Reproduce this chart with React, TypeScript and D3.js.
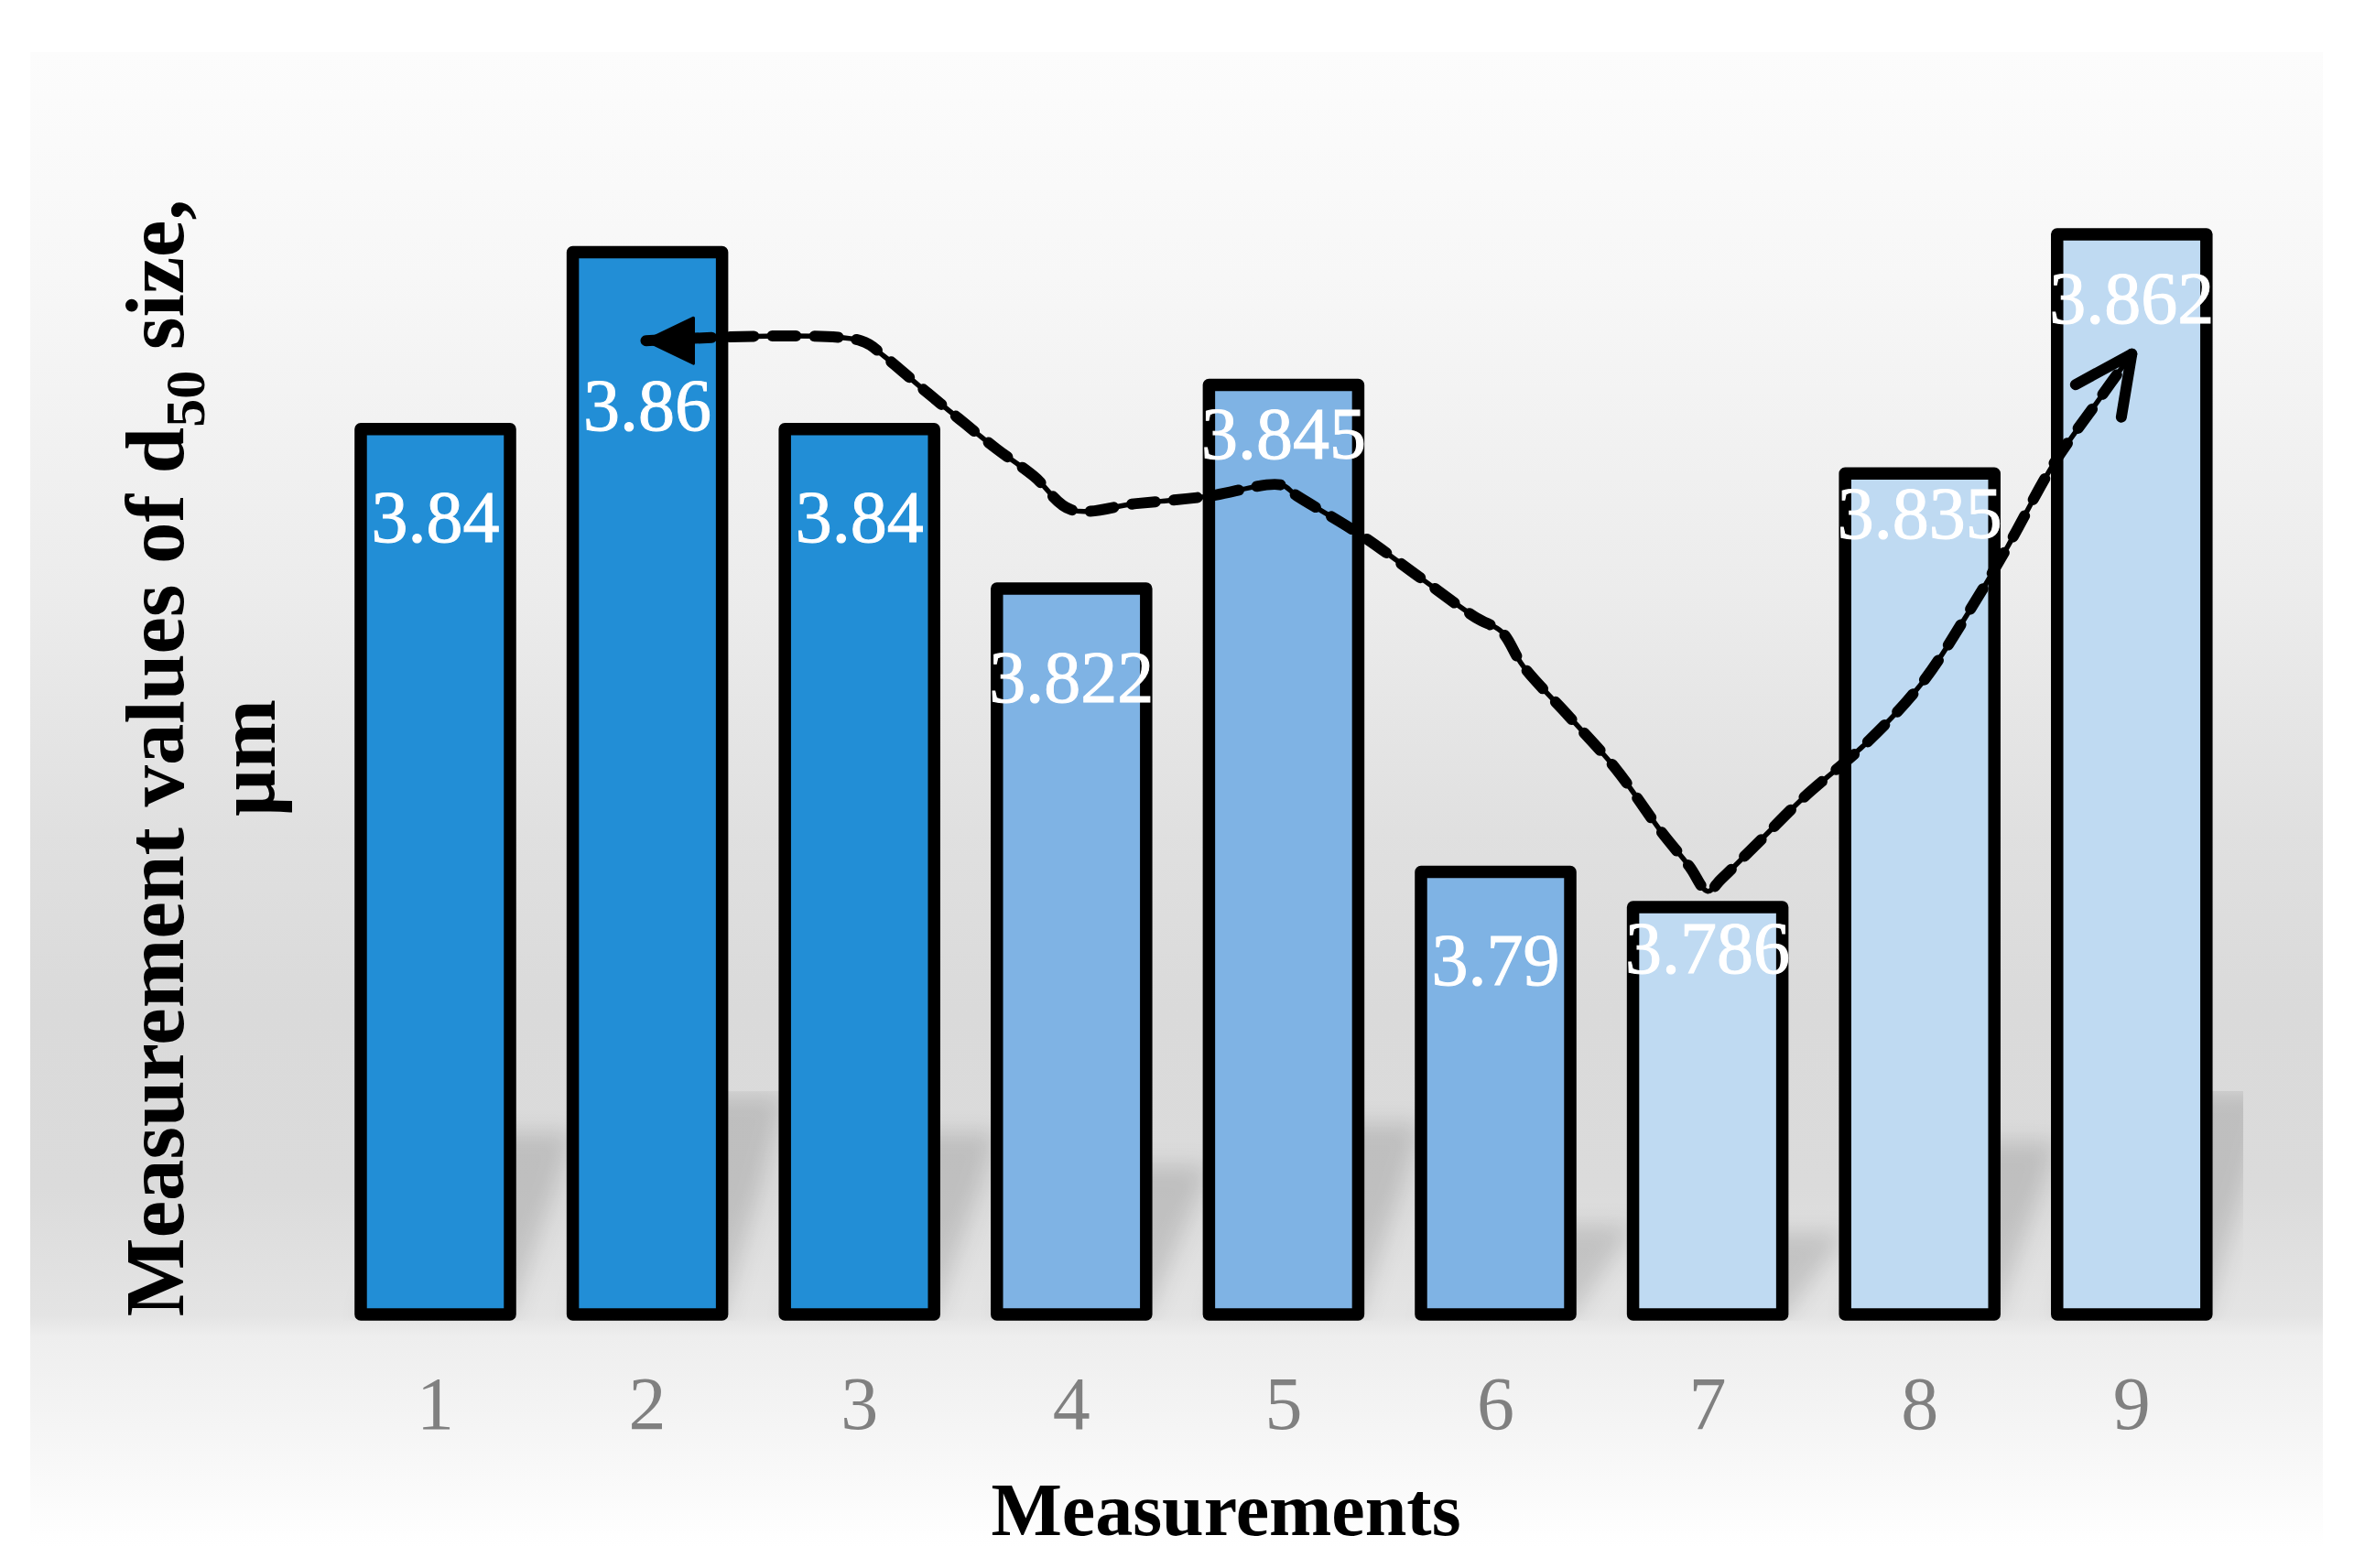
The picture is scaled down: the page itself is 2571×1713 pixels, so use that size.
import React, { useEffect } from 'react';
import * as d3 from 'd3';

// ---------- data ----------
const categories = ['1', '2', '3', '4', '5', '6', '7', '8', '9'];
const values = [3.84, 3.86, 3.84, 3.822, 3.845, 3.79, 3.786, 3.835, 3.862];
const barColors = ['#228ED6', '#228ED6', '#228ED6', '#7FB3E4', '#7FB3E4', '#7FB3E4', '#BFDAF2', '#BFDAF2', '#BFDAF2'];
// label baseline offsets below bar top (px)
const labelDy = [130, 201, 130, 131, 87, 130, 79, 78, 104];
// hand-drawn trend annotation (measurement position, µm)
const trendPos = [1.993, 3.006, 3.118, 3.291, 3.468, 3.645, 3.822, 3.999, 4.306, 4.638, 4.988, 5.061, 5.368, 5.64, 5.908, 6.029, 6.128, 6.348, 6.568, 6.776, 6.914, 7.0, 7.065, 7.259, 7.453, 7.755, 8.01, 8.222, 8.416, 8.632, 8.835, 9.0];
const trendVal = [3.85, 3.85, 3.8482, 3.8447, 3.8412, 3.8378, 3.8347, 3.8309, 3.8316, 3.8324, 3.8337, 3.8325, 3.828, 3.8233, 3.8187, 3.8171, 3.8133, 3.8075, 3.8016, 3.7947, 3.7906, 3.7878, 3.7892, 3.7938, 3.7984, 3.8047, 3.8113, 3.819, 3.8268, 3.8361, 3.843, 3.8485];
const yDomain = [3.74, 3.88];
const xTitle = 'Measurements';

// ---------- layout ----------
const W = 2571;
const H = 1713;
const chart = { x: 33, y: 57, w: 2504, h: 1632 };
const plot = { left: 359.7, right: 2444.1, top: 82, bottom: 1436 };
const stroke = 13.5;
const serif = '"Liberation Serif", "Times New Roman", Times, serif';

export default function App() {
  useEffect(() => {
    document.body.style.margin = '0';
  }, []);

  const x = d3.scaleBand<string>().domain(categories).range([plot.left, plot.right]).paddingInner(0.296).paddingOuter(0.148);
  const y = d3.scaleLinear().domain(yDomain).range([plot.bottom, plot.top]);
  const bw = x.bandwidth();
  const cx = (c: string) => (x(c) as number) + bw / 2;
  const xLin = d3.scaleLinear().domain([1, 9]).range([cx('1'), cx('9')]);

  const pts: [number, number][] = trendPos.map((p, i) => [xLin(p), y(trendVal[i])]);
  const line = d3.line<[number, number]>().x(d => d[0]).y(d => d[1]).curve(d3.curveCatmullRom.alpha(0.5));
  const pathD = line(pts) || '';

  // start arrow (filled triangle)
  const p0 = pts[0], p1 = pts[1];
  const a0 = Math.atan2(p1[1] - p0[1], p1[0] - p0[0]);
  const tL = 52, tW = 25;
  const bx = p0[0] + tL * Math.cos(a0), by = p0[1] + tL * Math.sin(a0);
  const tri = [
    [p0[0], p0[1]],
    [bx - tW * Math.sin(a0), by + tW * Math.cos(a0)],
    [bx + tW * Math.sin(a0), by - tW * Math.cos(a0)],
  ].map(p => p.join(',')).join(' ');

  // end arrow (open)
  const pn = pts[pts.length - 1], pm = pts[pts.length - 3];
  const aBack = Math.atan2(pm[1] - pn[1], pm[0] - pn[0]);
  const armL = 70, armA = (26 * Math.PI) / 180;
  const arm1 = [pn[0] + armL * Math.cos(aBack - armA), pn[1] + armL * Math.sin(aBack - armA)];
  const arm2 = [pn[0] + armL * Math.cos(aBack + armA), pn[1] + armL * Math.sin(aBack + armA)];

  const baseY = y(yDomain[0]);
  const shadowRatio = 0.21;
  const shadowShift = 70;

  return (
    <svg width={W} height={H} style={{ position: 'absolute', left: 0, top: 0, display: 'block' }} xmlns="http://www.w3.org/2000/svg">
      <defs>
        <linearGradient id="bg" x1="0" y1="0" x2="0" y2="1">
          <stop offset="0" stopColor="#FCFCFC" />
          <stop offset="0.15" stopColor="#F7F7F7" />
          <stop offset="0.36" stopColor="#ECECEC" />
          <stop offset="0.52" stopColor="#E0E0E0" />
          <stop offset="0.64" stopColor="#DADADA" />
          <stop offset="0.76" stopColor="#DBDBDB" />
          <stop offset="0.846" stopColor="#E4E4E4" />
          <stop offset="0.86" stopColor="#EEEEEE" />
          <stop offset="0.93" stopColor="#F6F6F6" />
          <stop offset="1" stopColor="#FFFFFF" />
        </linearGradient>
        <filter id="blur" x="-50%" y="-50%" width="200%" height="200%">
          <feGaussianBlur stdDeviation="12" />
        </filter>
        <clipPath id="shadowClip">
          <rect x={plot.left} y={1192} width={2450 - plot.left} height={baseY + stroke / 2 - 1192} />
        </clipPath>
      </defs>

      <rect x={0} y={0} width={W} height={H} fill="#FFFFFF" />
      <rect x={chart.x} y={chart.y} width={chart.w} height={chart.h} fill="url(#bg)" />

      {/* perspective shadows */}
      <g clipPath="url(#shadowClip)">
        <g filter="url(#blur)">
          {categories.map((c, i) => {
            const x0 = x(c) as number;
            const x1 = x0 + bw;
            const yb = baseY + stroke / 2;
            const hs = shadowRatio * (yb - (y(values[i]) - stroke / 2));
            const d = `M${x0},${yb} L${x1},${yb} L${x1 + shadowShift},${yb - hs} L${x0 + shadowShift},${yb - hs} Z`;
            return <path key={c} d={d} fill="#000" fillOpacity={0.13} />;
          })}
        </g>
      </g>

      {/* bars */}
      {categories.map((c, i) => (
        <rect
          key={c}
          x={x(c)}
          y={y(values[i])}
          width={bw}
          height={baseY - y(values[i])}
          fill={barColors[i]}
          stroke="#000"
          strokeWidth={stroke}
          strokeLinejoin="round"
        />
      ))}

      {/* value labels */}
      {categories.map((c, i) => (
        <text
          key={c}
          x={cx(c)}
          y={y(values[i]) - stroke / 2 + labelDy[i]}
          textAnchor="middle"
          fontFamily={serif}
          fontSize={80}
          fill="#FFFFFF"
          stroke="#FFFFFF"
          strokeWidth={1}
        >
          {String(values[i])}
        </text>
      ))}

      {/* trend annotation */}
      <path d={pathD} fill="none" stroke="#000" strokeWidth={5.5} strokeLinejoin="round" strokeLinecap="round" />
      <path d={pathD} fill="none" stroke="#000" strokeWidth={12} strokeDasharray="26 20" strokeLinecap="round" strokeLinejoin="round" />
      <polygon points={tri} fill="#000" stroke="#000" strokeWidth={3} strokeLinejoin="round" />
      <path
        d={`M${arm1[0]},${arm1[1]} L${pn[0]},${pn[1]} L${arm2[0]},${arm2[1]}`}
        fill="none"
        stroke="#000"
        strokeWidth={12}
        strokeLinecap="round"
        strokeLinejoin="round"
      />

      {/* x tick labels */}
      {categories.map(c => (
        <text key={c} x={cx(c)} y={1561} textAnchor="middle" fontFamily={serif} fontSize={82} fill="#808080">
          {c}
        </text>
      ))}

      {/* x title */}
      <text x={1339} y={1677} textAnchor="middle" fontFamily={serif} fontSize={82} fontWeight="bold" fill="#000">
        {xTitle}
      </text>

      {/* y title */}
      <g transform="translate(200,828) rotate(-90)">
        <text x={0} y={0} textAnchor="middle" fontFamily={serif} fontSize={91} fontWeight="bold" fill="#000">
          <tspan>Measurement values of d</tspan>
          <tspan fontSize={62} dy={23}>50</tspan>
          <tspan dy={-23}> size,</tspan>
        </text>
      </g>
      <g transform="translate(300,828) rotate(-90)">
        <text x={0} y={0} textAnchor="middle" fontFamily={serif} fontSize={91} fontWeight="bold" fill="#000">
          µm
        </text>
      </g>
    </svg>
  );
}
